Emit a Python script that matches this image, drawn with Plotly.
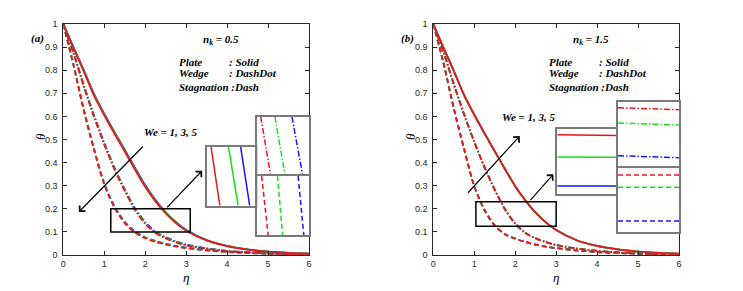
import plotly.graph_objects as go

# ---------------- data ----------------
eta = [0, 0.25, 0.5, 0.75, 1, 1.25, 1.5, 1.75, 2, 2.25, 2.5, 2.75, 3, 3.5, 4, 4.5, 5, 5.5, 6]

# panel (a) n_k = 0.5 ; We = 1 (red), 3 (green), 5 (blue)
solid_a_red   = [1.000, 0.895, 0.795, 0.690, 0.605, 0.525, 0.448, 0.370, 0.295, 0.232, 0.180, 0.138, 0.105, 0.063, 0.038, 0.023, 0.014, 0.009, 0.006]
solid_a_green = [1.000, 0.897, 0.798, 0.694, 0.609, 0.529, 0.452, 0.374, 0.299, 0.236, 0.183, 0.141, 0.107, 0.064, 0.039, 0.023, 0.014, 0.009, 0.006]
solid_a_blue  = [1.000, 0.899, 0.801, 0.697, 0.612, 0.533, 0.456, 0.378, 0.303, 0.239, 0.186, 0.143, 0.109, 0.065, 0.040, 0.024, 0.015, 0.009, 0.006]

dashdot_a_red   = [1.000, 0.872, 0.730, 0.598, 0.478, 0.370, 0.277, 0.195, 0.135, 0.095, 0.072, 0.055, 0.042, 0.027, 0.017, 0.011, 0.007, 0.005, 0.003]
dashdot_a_green = [1.000, 0.874, 0.733, 0.602, 0.482, 0.374, 0.281, 0.199, 0.139, 0.098, 0.074, 0.057, 0.043, 0.028, 0.018, 0.011, 0.007, 0.005, 0.003]
dashdot_a_blue  = [1.000, 0.876, 0.736, 0.606, 0.486, 0.378, 0.285, 0.203, 0.143, 0.101, 0.077, 0.059, 0.045, 0.029, 0.018, 0.012, 0.008, 0.005, 0.003]

dash_a_red   = [1.000, 0.820, 0.625, 0.455, 0.305, 0.205, 0.138, 0.097, 0.073, 0.057, 0.046, 0.037, 0.030, 0.020, 0.013, 0.009, 0.006, 0.004, 0.003]
dash_a_green = [1.000, 0.822, 0.628, 0.458, 0.308, 0.208, 0.141, 0.099, 0.075, 0.059, 0.047, 0.038, 0.031, 0.020, 0.013, 0.009, 0.006, 0.004, 0.003]
dash_a_blue  = [1.000, 0.824, 0.631, 0.461, 0.311, 0.211, 0.144, 0.102, 0.077, 0.061, 0.049, 0.039, 0.032, 0.021, 0.014, 0.009, 0.006, 0.004, 0.003]

# panel (b) n_k = 1.5 ; curves for We = 1, 3, 5 coincide at this scale
solid_b   = [1.000, 0.897, 0.797, 0.693, 0.607, 0.527, 0.449, 0.372, 0.298, 0.236, 0.183, 0.141, 0.108, 0.064, 0.039, 0.024, 0.015, 0.009, 0.006]
dashdot_b = [1.000, 0.878, 0.740, 0.610, 0.490, 0.380, 0.283, 0.198, 0.136, 0.095, 0.072, 0.056, 0.043, 0.028, 0.018, 0.011, 0.007, 0.005, 0.003]
dash_b    = [1.000, 0.830, 0.635, 0.460, 0.298, 0.195, 0.128, 0.090, 0.071, 0.056, 0.045, 0.036, 0.030, 0.020, 0.013, 0.009, 0.006, 0.004, 0.003]

# zoom insets (normalised inset coordinates), order: We = 1, 3, 5
inset_a_solid_top      = [0.085, 0.43, 0.67]
inset_a_solid_bottom   = [0.26, 0.62, 0.85]
inset_a_dashdot_top    = [0.066, 0.34, 0.67]
inset_a_dashdot_bottom = [0.26, 0.54, 0.88]
inset_a_dash_top       = [0.085, 0.39, 0.79]
inset_a_dash_bottom    = [0.21, 0.49, 0.90]

inset_b_solid_left    = [0.915, 0.575, 0.128]
inset_b_solid_right   = [0.905, 0.570, 0.128]
inset_b_dashdot_left  = [0.917, 0.683, 0.183]
inset_b_dashdot_right = [0.887, 0.653, 0.153]
inset_b_dash_left     = [0.886, 0.695, 0.171]
inset_b_dash_right    = [0.886, 0.695, 0.171]

# zoom rectangles [eta0, eta1, theta0, theta1]
rect_a = [1.16, 3.10, 0.10, 0.20]
rect_b = [1.04, 3.00, 0.125, 0.23]

# arrows [tail_eta, tail_theta, head_eta, head_theta]
arrow_we_a   = [1.98, 0.476, 0.38, 0.186]
arrow_zoom_a = [2.50, 0.200, 3.39, 0.365]
arrow_we_b   = [0.815, 0.263, 2.11, 0.515]
arrow_zoom_b = [2.34, 0.231, 2.93, 0.350]

# ---------------- style ----------------
W, H = 743, 291
RED, GREEN, BLUE = "#e8161c", "#16e016", "#1616ff"
COLORS = [RED, GREEN, BLUE]
DASH = "5px,3px"
DASHDOT = "6px,2px,1.5px,2px"
LW = 1.8
SERIF = "Liberation Serif"
SANS = "Liberation Sans"

def fx(p):
    return p / W

def fy(p):
    return 1 - p / H

fig = go.Figure()

def add_curve(y, color, dash, xa, ya):
    fig.add_trace(go.Scatter(x=eta, y=y, mode="lines", xaxis=xa, yaxis=ya,
                             line=dict(color=color, width=LW, dash=dash, shape="spline", smoothing=0.8),
                             showlegend=False, hoverinfo="skip"))

# panel a: blue, green, red (red on top)
for ys, dash in [((solid_a_blue, solid_a_green, solid_a_red), "solid"),
                 ((dashdot_a_blue, dashdot_a_green, dashdot_a_red), DASHDOT),
                 ((dash_a_blue, dash_a_green, dash_a_red), DASH)]:
    for y, c in zip(ys, [BLUE, GREEN, RED]):
        add_curve(y, c, dash, "x", "y")

# panel b
for y, dash in [(solid_b, "solid"), (dashdot_b, DASHDOT), (dash_b, DASH)]:
    for c in [BLUE, GREEN, RED]:
        add_curve(y, c, dash, "x2", "y2")

# insets a (steep lines)
for tops, bots, dash, ax in [(inset_a_solid_top, inset_a_solid_bottom, "solid", 3),
                             (inset_a_dashdot_top, inset_a_dashdot_bottom, DASHDOT, 4),
                             (inset_a_dash_top, inset_a_dash_bottom, DASH, 5)]:
    for t, b, c in zip(tops, bots, COLORS):
        fig.add_trace(go.Scatter(x=[t, b], y=[1, 0], mode="lines", xaxis=f"x{ax}", yaxis=f"y{ax}",
                                 line=dict(color=c, width=1.5, dash=dash), showlegend=False, hoverinfo="skip"))

# insets b (nearly horizontal lines)
for lefts, rights, dash, ax in [(inset_b_solid_left, inset_b_solid_right, "solid", 6),
                                (inset_b_dashdot_left, inset_b_dashdot_right, DASHDOT, 7),
                                (inset_b_dash_left, inset_b_dash_right, DASH, 8)]:
    for l, r, c in zip(lefts, rights, COLORS):
        fig.add_trace(go.Scatter(x=[0, 1], y=[l, r], mode="lines", xaxis=f"x{ax}", yaxis=f"y{ax}",
                                 line=dict(color=c, width=1.5, dash=dash), showlegend=False, hoverinfo="skip"))

# ---------------- axes ----------------
main_x = dict(range=[0, 6], dtick=1, showline=True, mirror="ticks", ticks="inside", ticklen=4,
              linecolor="#262626", tickcolor="#262626", linewidth=1, showgrid=False, zeroline=False,
              automargin=False, tickfont=dict(family=SANS, size=9, color="#262626"))
main_y = dict(range=[0, 1], dtick=0.1, showline=True, mirror="ticks", ticks="inside", ticklen=4,
              linecolor="#262626", tickcolor="#262626", linewidth=1, showgrid=False, zeroline=False,
              automargin=False, tickfont=dict(family=SANS, size=9, color="#262626"), ticklabelstandoff=3)

ydom = [fy(255), fy(24)]
layout_axes = dict(
    xaxis=dict(main_x, domain=[fx(63.3), fx(309)], anchor="y"),
    yaxis=dict(main_y, domain=ydom, anchor="x"),
    xaxis2=dict(main_x, domain=[fx(433.3), fx(679)], anchor="y2"),
    yaxis2=dict(main_y, domain=ydom, anchor="x2"),
)

inset_boxes = {
    3: ([206.7, 257.3], [146.7, 205.7]),
    4: ([257.3, 309.0], [116.7, 176.0]),
    5: ([257.3, 309.0], [176.0, 235.3]),
    6: ([557.3, 618.0], [129.3, 194.3]),
    7: ([618.0, 679.0], [102.3, 167.7]),
    8: ([618.0, 679.0], [167.7, 232.0]),
}
for k, (xs, ys) in inset_boxes.items():
    common = dict(range=[0, 1], showline=True, mirror=True, linecolor="#7a7a7a", linewidth=1.6,
                  showticklabels=False, ticks="", showgrid=False, zeroline=False, fixedrange=True,
                  automargin=False)
    layout_axes[f"xaxis{k}"] = dict(common, domain=[fx(xs[0]), fx(xs[1])], anchor=f"y{k}")
    layout_axes[f"yaxis{k}"] = dict(common, domain=[fy(ys[1]), fy(ys[0])], anchor=f"x{k}")

# ---------------- shapes / annotations ----------------
shapes = []
for r, xr, yr in [(rect_a, "x", "y"), (rect_b, "x2", "y2")]:
    shapes.append(dict(type="rect", xref=xr, yref=yr, x0=r[0], x1=r[1], y0=r[2], y1=r[3],
                       line=dict(color="black", width=1.5), fillcolor="rgba(0,0,0,0)"))

annotations = []
for a, xr, yr in [(arrow_we_a, "x", "y"), (arrow_zoom_a, "x", "y"),
                  (arrow_we_b, "x2", "y2"), (arrow_zoom_b, "x2", "y2")]:
    annotations.append(dict(x=a[2], y=a[3], ax=a[0], ay=a[1], xref=xr, yref=yr, axref=xr, ayref=yr,
                            text="", showarrow=True, arrowhead=4, arrowsize=1.3, arrowwidth=1.2,
                            arrowcolor="black"))

tfont = dict(family=SERIF, size=11, color="black", weight="bold", style="italic")
sym_font = dict(family=SERIF, size=13, color="black", style="italic")

def txt(x, y, s, xr, yr, xanchor="left", font=tfont, **kw):
    annotations.append(dict(x=x, y=y, xref=xr, yref=yr, text=s, showarrow=False,
                            xanchor=xanchor, yanchor="middle", font=font, **kw))

for xr, yr, lab, nk, we_pos, x0px in [("x", "y", "(a)", "0.5", (2.63, 0.534), 63.3),
                                      ("x2", "y2", "(b)", "1.5", (2.33, 0.599), 433.3)]:
    txt(fx(x0px - 25.8), fy(39), lab, "paper", "paper", xanchor="center")
    txt(3.85, 0.93, f"n<sub>k</sub> = {nk}", xr, yr, xanchor="center")
    txt(2.77, 0.837, "Plate", xr, yr)
    txt(3.99, 0.837, ": Solid", xr, yr)
    txt(2.77, 0.786, "Wedge", xr, yr)
    txt(3.99, 0.786, ": DashDot", xr, yr)
    txt(2.77, 0.729, "Stagnation :Dash", xr, yr)
    txt(we_pos[0], we_pos[1], "We = 1, 3, 5", xr, yr, xanchor="center")
    txt(fx(x0px - 23.3), fy(137), "θ", "paper", "paper", xanchor="center", font=sym_font, textangle=-90)
    txt(fx(x0px + 123), fy(277), "η", "paper", "paper", xanchor="center", font=sym_font)

fig.update_layout(
    width=W, height=H, autosize=False,
    margin=dict(l=0, r=0, t=0, b=0),
    paper_bgcolor="white", plot_bgcolor="white",
    showlegend=False, shapes=shapes, annotations=annotations,
    **layout_axes,
)

fig.write_html("out.html", config={"displayModeBar": False},
               post_script="document.body.style.margin='0';document.body.style.overflow='hidden';")
